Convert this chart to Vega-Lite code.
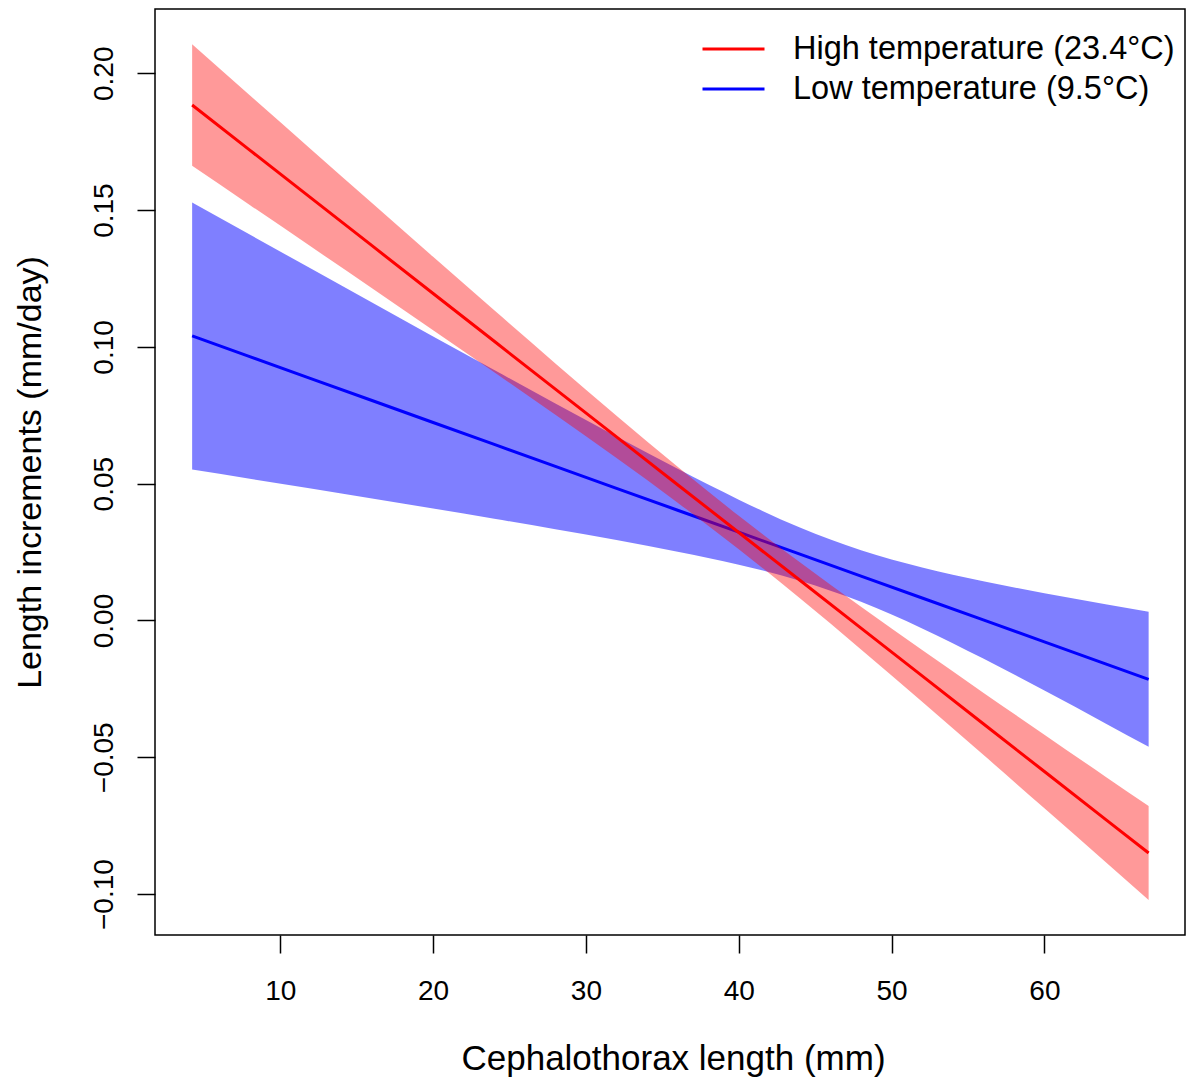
{
  "$schema": "https://vega.github.io/schema/vega-lite/v6.json",
  "width": 1030,
  "height": 926,
  "autosize": {"type": "none"},
  "padding": {"left": 155, "top": 9, "right": 2, "bottom": 144},
  "background": "white",
  "config": {
    "font": "Liberation Sans",
    "view": {"stroke": "black", "strokeWidth": 1.5},
    "axis": {"grid": false, "domain": false, "tickColor": "black", "tickWidth": 1.5, "tickSize": 18, "labelColor": "black", "titleColor": "black", "labelFont": "Liberation Sans", "titleFont": "Liberation Sans", "titleFontWeight": "normal"}
  },
  "data": {"values": [
    {"series": "High temperature (23.4°C)", "x": 4.23, "fit": 0.1884, "lo": 0.1662, "hi": 0.2106},
    {"series": "High temperature (23.4°C)", "x": 8, "fit": 0.17193, "lo": 0.15188, "hi": 0.19198},
    {"series": "High temperature (23.4°C)", "x": 12, "fit": 0.15446, "lo": 0.13667, "hi": 0.17225},
    {"series": "High temperature (23.4°C)", "x": 16, "fit": 0.13699, "lo": 0.12143, "hi": 0.15255},
    {"series": "High temperature (23.4°C)", "x": 20, "fit": 0.11952, "lo": 0.10612, "hi": 0.13292},
    {"series": "High temperature (23.4°C)", "x": 24, "fit": 0.10205, "lo": 0.09073, "hi": 0.11337},
    {"series": "High temperature (23.4°C)", "x": 28, "fit": 0.08457, "lo": 0.07517, "hi": 0.09397},
    {"series": "High temperature (23.4°C)", "x": 32, "fit": 0.06710, "lo": 0.05936, "hi": 0.07484},
    {"series": "High temperature (23.4°C)", "x": 36, "fit": 0.04963, "lo": 0.04308, "hi": 0.05618},
    {"series": "High temperature (23.4°C)", "x": 40, "fit": 0.03216, "lo": 0.02605, "hi": 0.03827},
    {"series": "High temperature (23.4°C)", "x": 44, "fit": 0.01469, "lo": 0.00812, "hi": 0.02126},
    {"series": "High temperature (23.4°C)", "x": 48, "fit": -0.00279, "lo": -0.01056, "hi": 0.00498},
    {"series": "High temperature (23.4°C)", "x": 52, "fit": -0.02026, "lo": -0.02970, "hi": -0.01082},
    {"series": "High temperature (23.4°C)", "x": 56, "fit": -0.03773, "lo": -0.04909, "hi": -0.02637},
    {"series": "High temperature (23.4°C)", "x": 60, "fit": -0.05520, "lo": -0.06864, "hi": -0.04176},
    {"series": "High temperature (23.4°C)", "x": 64, "fit": -0.07268, "lo": -0.08829, "hi": -0.05707},
    {"series": "High temperature (23.4°C)", "x": 66.82, "fit": -0.08499, "lo": -0.10216, "hi": -0.06782},
    {"series": "Low temperature (9.5°C)", "x": 4.23, "fit": 0.1040, "lo": 0.0552, "hi": 0.1528},
    {"series": "Low temperature (9.5°C)", "x": 8, "fit": 0.09644, "lo": 0.05182, "hi": 0.14106},
    {"series": "Low temperature (9.5°C)", "x": 12, "fit": 0.08842, "lo": 0.04822, "hi": 0.12862},
    {"series": "Low temperature (9.5°C)", "x": 16, "fit": 0.08040, "lo": 0.04459, "hi": 0.11621},
    {"series": "Low temperature (9.5°C)", "x": 20, "fit": 0.07238, "lo": 0.04092, "hi": 0.10384},
    {"series": "Low temperature (9.5°C)", "x": 24, "fit": 0.06436, "lo": 0.03719, "hi": 0.09153},
    {"series": "Low temperature (9.5°C)", "x": 28, "fit": 0.05634, "lo": 0.03337, "hi": 0.07931},
    {"series": "Low temperature (9.5°C)", "x": 32, "fit": 0.04832, "lo": 0.02940, "hi": 0.06724},
    {"series": "Low temperature (9.5°C)", "x": 36, "fit": 0.04030, "lo": 0.02517, "hi": 0.05543},
    {"series": "Low temperature (9.5°C)", "x": 40, "fit": 0.03228, "lo": 0.02040, "hi": 0.04416},
    {"series": "Low temperature (9.5°C)", "x": 44, "fit": 0.02426, "lo": 0.01455, "hi": 0.03397},
    {"series": "Low temperature (9.5°C)", "x": 48, "fit": 0.01624, "lo": 0.00684, "hi": 0.02564},
    {"series": "Low temperature (9.5°C)", "x": 52, "fit": 0.00822, "lo": -0.00289, "hi": 0.01933},
    {"series": "Low temperature (9.5°C)", "x": 56, "fit": 0.00020, "lo": -0.01392, "hi": 0.01432},
    {"series": "Low temperature (9.5°C)", "x": 60, "fit": -0.00782, "lo": -0.02560, "hi": 0.00996},
    {"series": "Low temperature (9.5°C)", "x": 64, "fit": -0.01584, "lo": -0.03762, "hi": 0.00594},
    {"series": "Low temperature (9.5°C)", "x": 66.82, "fit": -0.02149, "lo": -0.04619, "hi": 0.00321}
  ]},
  "encoding": {
    "x": {"field": "x", "type": "quantitative",
      "scale": {"domain": [1.8, 69.2], "nice": false, "zero": false},
      "axis": {"values": [10, 20, 30, 40, 50, 60], "title": "Cephalothorax length (mm)", "labelFontSize": 28, "labelBaseline": "alphabetic", "labelPadding": 46, "titleFontSize": 35, "titleBaseline": "alphabetic", "titleAlign": "center", "titleX": 518, "titleY": 134}}
  },
  "layer": [
    {
      "transform": [{"filter": "datum.series === 'Low temperature (9.5°C)'"}],
      "mark": {"type": "area", "color": "#0000FF", "opacity": 0.5, "interpolate": "monotone"},
      "encoding": {
        "y": {"field": "lo", "type": "quantitative", "scale": {"domain": [-0.11495, 0.2235], "nice": false, "zero": false},
          "axis": {"values": [-0.1, -0.05, 0, 0.05, 0.1, 0.15, 0.2], "format": ".2f", "title": "Length increments (mm/day)", "labelFontSize": 28, "labelAngle": -90, "labelAlign": "center", "labelBaseline": "alphabetic", "labelPadding": 25, "titleFontSize": 34, "titleAngle": -90, "titleBaseline": "alphabetic", "titleAlign": "center", "titleX": -115, "titleY": 463}},
        "y2": {"field": "hi"}
      }
    },
    {
      "transform": [{"filter": "datum.series === 'Low temperature (9.5°C)'"}],
      "mark": {"type": "line", "strokeWidth": 3},
      "encoding": {
        "y": {"field": "fit", "type": "quantitative"},
        "color": {"field": "series", "type": "nominal",
          "scale": {"domain": ["High temperature (23.4°C)", "Low temperature (9.5°C)"], "range": ["#FF0000", "#0000FF"]},
          "legend": {"title": null, "orient": "none", "legendX": 561.5, "legendY": 23, "padding": 0, "symbolType": "M-2,0H2", "symbolSize": 961, "symbolStrokeWidth": 3, "labelFontSize": 32.5, "labelOffset": 42.5, "labelColor": "black", "labelFont": "Liberation Sans", "rowPadding": 6, "labelLimit": 600}}
      }
    },
    {
      "transform": [{"filter": "datum.series === 'High temperature (23.4°C)'"}],
      "mark": {"type": "area", "color": "#FF0000", "opacity": 0.4, "interpolate": "monotone"},
      "encoding": {
        "y": {"field": "lo", "type": "quantitative"},
        "y2": {"field": "hi"}
      }
    },
    {
      "transform": [{"filter": "datum.series === 'High temperature (23.4°C)'"}],
      "mark": {"type": "line", "strokeWidth": 3},
      "encoding": {
        "y": {"field": "fit", "type": "quantitative"},
        "color": {"field": "series", "type": "nominal"}
      }
    }
  ]
}
